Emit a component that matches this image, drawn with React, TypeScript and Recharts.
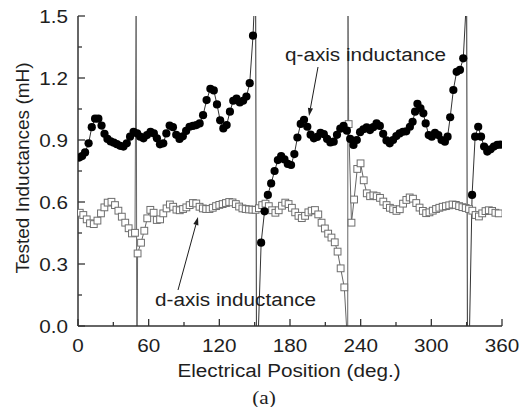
import React from 'react';
import { LineChart, Line, XAxis, YAxis } from 'recharts';

// q-axis inductance (mH) vs electrical position (deg.)
const qDeg = [
  1, 3.5, 6, 9, 11.7, 14.5, 17.3, 20, 22.5, 25,
  27.7, 30.4, 33, 35.8, 38.6, 41.4, 44.2, 47.2, 50.2, 52.8,
  55.6, 58.6, 61.6, 64.4, 67, 69.6, 72.4, 75, 77.8, 80.6,
  83.4, 86.2, 89, 91.8, 94.7, 97.6, 100.5, 103.3, 106.2, 109.2,
  112.4, 115.3, 118, 120.7, 123.4, 126.2, 129, 131.8, 134.6, 137.4,
  140.2, 143, 145.8, 148.6, 150.8, 151.6, 155.5, 158.4, 161.2, 164,
  166.9, 169.7, 172.5, 175.3, 178.1, 180.9, 183.7, 186.3, 189.1, 191.9,
  194.7, 197.5, 200.3, 203.1, 205.9, 208.7, 211.5, 214.3, 217.1, 219.9,
  222.7, 225.5, 228.3, 231.1, 233.9, 236.7, 239.5, 242.3, 245.1, 247.9,
  250.7, 253.5, 256.3, 259.1, 261.9, 264.7, 267.5, 270.3, 273.1, 275.9,
  278.7, 281.8, 284.1, 286.2, 288.2, 290.8, 293.2, 295.2, 297.8, 300.4,
  303.1, 305.9, 308.7, 311.5, 313.8, 316, 318.7, 321.5, 324.3, 327.1,
  330, 330.8, 334.6, 337.2, 339.8, 342.2, 344.8, 347.5, 350.3, 353.1,
  356, 358.6,
];
const qL = [
  0.815, 0.822, 0.84, 0.884, 0.962, 1.003, 1.003, 0.97, 0.93, 0.905,
  0.893, 0.887, 0.88, 0.872, 0.868, 0.884, 0.916, 0.94, 0.932, 0.916,
  0.908, 0.924, 0.94, 0.932, 0.908, 0.879, 0.884, 0.932, 0.97, 0.962,
  0.925, 0.905, 0.918, 0.944, 0.964, 0.968, 0.972, 0.98, 1.02, 1.093,
  1.148, 1.14, 1.072, 0.995, 0.956, 0.972, 1.037, 1.09, 1.1, 1.082,
  1.09, 1.11, 1.175, 1.405, 1.7, -0.3, 0.403, 0.555, 0.634, 0.69,
  0.75, 0.803, 0.822, 0.806, 0.784, 0.779, 0.832, 0.912, 0.978, 0.998,
  0.964, 0.926, 0.908, 0.915, 0.935, 0.928, 0.905, 0.888, 0.892, 0.925,
  0.955, 0.968, 0.945, 0.905, 0.876, 0.9, 0.938, 0.952, 0.961, 0.948,
  0.962, 0.98, 0.968, 0.93, 0.898, 0.884, 0.9, 0.919, 0.932, 0.94,
  0.942, 0.964, 0.988, 1.037, 1.075, 1.053, 1.029, 0.98, 0.924, 0.916,
  0.935, 0.924, 0.9, 0.892, 0.916, 1.01, 1.142, 1.23, 1.239, 1.295,
  1.6, -0.5, 0.634, 0.916, 0.964, 0.916, 0.868, 0.844, 0.855, 0.868,
  0.876, 0.878,
];

// d-axis inductance (mH)
const dDeg = [
  1.5, 4.5, 7.4, 10.2, 13.4, 16.5, 19.5, 22.4, 25.2, 28.4,
  31.4, 34.3, 37.2, 40.1, 43, 45.8, 48.4, 49.4, 50, 50.6,
  53.5, 56.3, 58.8, 61.4, 64.2, 66.9, 69.7, 72.4, 75.2, 78,
  80.8, 83.6, 86.4, 89.2, 92, 94.8, 97.6, 100.4, 103.2, 106,
  108.8, 111.6, 114.4, 117.2, 120, 122.8, 125.6, 128.4, 131.2, 134,
  136.8, 139.6, 142.4, 145.2, 148, 150.8, 153.6, 156.4, 159.2, 162,
  164.8, 167.6, 170.4, 173.2, 176, 178.8, 181.6, 184.4, 187.2, 190,
  192.8, 195.6, 198.4, 201.2, 204, 206.8, 209.6, 212.4, 215.2, 218,
  220.4, 223, 226.1, 229, 229.2, 229.8, 232.2, 234.4, 237.1, 239.9,
  242.6, 245.2, 248, 250.8, 253.6, 256.4, 259.2, 262, 264.8, 267.6,
  270.4, 273.2, 276, 278.8, 281.6, 284.4, 287.2, 290, 292.8, 295.6,
  298.4, 301.2, 304, 306.8, 309.6, 312.4, 315.2, 318, 320.8, 323.6,
  326.4, 329.2, 332, 334.8, 337.6, 340.4, 343.2, 346, 348.8, 351.6,
  354.4, 357.2,
];
const dL = [
  0.548, 0.537, 0.516, 0.497, 0.493, 0.51, 0.545, 0.574, 0.597, 0.601,
  0.585, 0.558, 0.529, 0.5, 0.473, 0.448, 0.451, 1.7, -0.4, 0.351,
  0.403, 0.461, 0.521, 0.562, 0.548, 0.513, 0.516, 0.545, 0.569, 0.588,
  0.577, 0.563, 0.56, 0.566, 0.574, 0.585, 0.595, 0.593, 0.577, 0.569,
  0.566, 0.566, 0.572, 0.58, 0.586, 0.59, 0.595, 0.6, 0.598, 0.59,
  0.578, 0.569, 0.566, 0.564, 0.563, 0.562, 0.57, 0.585, 0.592, 0.58,
  0.56, 0.548, 0.56, 0.582, 0.597, 0.59, 0.572, 0.55, 0.533, 0.522,
  0.533, 0.55, 0.558, 0.561, 0.54, 0.5, 0.472, 0.447, 0.428, 0.405,
  0.36, 0.279, 0.187, -0.1, 1.7, 0.977, 0.5, 0.612, 0.76, 0.787,
  0.705, 0.642, 0.628, 0.632, 0.628, 0.62, 0.602, 0.585, 0.572, 0.565,
  0.557, 0.565, 0.592, 0.61, 0.622, 0.616, 0.595, 0.573, 0.557, 0.546,
  0.55, 0.558, 0.566, 0.572, 0.577, 0.58, 0.584, 0.588, 0.586, 0.58,
  0.575, 0.571, 0.566, 0.558, 0.537, 0.53, 0.545, 0.556, 0.56, 0.557,
  0.548, 0.545,
];

const xMajor = [0, 60, 120, 180, 240, 300, 360];
const xTicks = [0, 30, 60, 90, 120, 150, 180, 210, 240, 270, 300, 330, 360];
const yMajor = [0, 0.3, 0.6, 0.9, 1.2, 1.5];
const yTicks = [0, 0.15, 0.3, 0.45, 0.6, 0.75, 0.9, 1.05, 1.2, 1.35, 1.5];

const qData = qDeg.map((deg, i) => ({ deg, L: qL[i] }));
const dData = dDeg.map((deg, i) => ({ deg, L: dL[i] }));

const AXIS = '#333';
const INK = '#1e1e1e';
const SANS = '"Liberation Sans", Arial, sans-serif';
const SERIF = '"Liberation Serif", "Times New Roman", serif';

const inRange = (v: number) => v >= 0 && v <= 1.5;

const BottomTick = ({ x, y, payload }: any) => {
  const major = xMajor.includes(payload.value);
  return (
    <g>
      <line x1={x} y1={y} x2={x} y2={y - (major ? 7 : 4)} stroke={AXIS} strokeWidth={1.3} />
      {major && (
        <text
          transform={`translate(${x},${y + 25.5}) scale(1.09,1)`}
          textAnchor="middle"
          fontSize={19}
          fontFamily={SANS}
          fill={INK}
        >
          {payload.value}
        </text>
      )}
    </g>
  );
};

const TopTick = ({ x, y, payload }: any) => {
  const major = xMajor.includes(payload.value);
  return <line x1={x} y1={y} x2={x} y2={y + (major ? 7 : 4)} stroke={AXIS} strokeWidth={1.3} />;
};

const LeftTick = ({ x, y, payload }: any) => {
  const major = yMajor.includes(payload.value);
  return (
    <g>
      <line x1={x} y1={y} x2={x + (major ? 7 : 4)} y2={y} stroke={AXIS} strokeWidth={1.3} />
      {major && (
        <text
          transform={`translate(${x - 10},${y + 6.8}) scale(1.09,1)`}
          textAnchor="end"
          fontSize={19}
          fontFamily={SANS}
          fill={INK}
        >
          {payload.value.toFixed(1)}
        </text>
      )}
    </g>
  );
};

const RightTick = ({ x, y, payload }: any) => {
  const major = yMajor.includes(payload.value);
  return <line x1={x} y1={y} x2={x - (major ? 7 : 4)} y2={y} stroke={AXIS} strokeWidth={1.3} />;
};

const CircleDot = (props: any) => {
  const { cx, cy, value, index } = props;
  if (!inRange(value)) return <g key={`q-${index}`} />;
  return <circle key={`q-${index}`} cx={cx} cy={cy} r={4.1} fill="#000" />;
};

const SquareDot = (props: any) => {
  const { cx, cy, value, index } = props;
  if (!inRange(value)) return <g key={`d-${index}`} />;
  return (
    <rect
      key={`d-${index}`}
      x={cx - 3.4}
      y={cy - 3.4}
      width={6.8}
      height={6.8}
      fill="#fff"
      stroke="#6e6e6e"
      strokeWidth={1}
    />
  );
};

const Arrow = ({ x1, y1, x2, y2 }: { x1: number; y1: number; x2: number; y2: number }) => {
  const a = Math.atan2(y2 - y1, x2 - x1);
  const len = 8;
  const half = 2.6;
  const bx = x2 - len * Math.cos(a);
  const by = y2 - len * Math.sin(a);
  const px = -Math.sin(a) * half;
  const py = Math.cos(a) * half;
  return (
    <g>
      <line x1={x1} y1={y1} x2={bx} y2={by} stroke={INK} strokeWidth={1} />
      <polygon points={`${x2},${y2} ${bx + px},${by + py} ${bx - px},${by - py}`} fill={INK} />
    </g>
  );
};

// the wrapper cancels the body margin so the svg covers the whole window
const App: React.FC = () => {
  return (
    <div style={{ position: 'relative', width: 531, height: 415, margin: -8 }}>
      <LineChart width={531} height={415} margin={{ top: 16, right: 29, bottom: 0, left: 0 }}>
        <XAxis
          xAxisId="bottom"
          type="number"
          dataKey="deg"
          domain={[0, 360]}
          ticks={xTicks}
          interval={0}
          allowDataOverflow
          height={89}
          tickSize={0}
          tickMargin={0}
          tick={<BottomTick />}
          axisLine={{ stroke: AXIS, strokeWidth: 1.5 }}
        />
        <XAxis
          xAxisId="top"
          orientation="top"
          type="number"
          dataKey="deg"
          domain={[0, 360]}
          ticks={xTicks}
          interval={0}
          allowDataOverflow
          height={0}
          tickSize={0}
          tickMargin={0}
          tick={<TopTick />}
          axisLine={{ stroke: AXIS, strokeWidth: 1.5 }}
        />
        <YAxis
          yAxisId="left"
          type="number"
          domain={[0, 1.5]}
          ticks={yTicks}
          interval={0}
          allowDataOverflow
          width={78}
          tickSize={0}
          tickMargin={0}
          tick={<LeftTick />}
          axisLine={{ stroke: AXIS, strokeWidth: 1.5 }}
        />
        <YAxis
          yAxisId="right"
          orientation="right"
          type="number"
          domain={[0, 1.5]}
          ticks={yTicks}
          interval={0}
          allowDataOverflow
          width={0}
          tickSize={0}
          tickMargin={0}
          tick={<RightTick />}
          axisLine={{ stroke: AXIS, strokeWidth: 1.5 }}
        />
        <Line
          xAxisId="bottom"
          yAxisId="left"
          data={dData}
          dataKey="L"
          type="linear"
          stroke="#666"
          strokeWidth={1}
          dot={SquareDot}
          activeDot={false}
          isAnimationActive={false}
        />
        <Line
          xAxisId="bottom"
          yAxisId="left"
          data={qData}
          dataKey="L"
          type="linear"
          stroke="#333"
          strokeWidth={1}
          dot={CircleDot}
          activeDot={false}
          isAnimationActive={false}
        />
      </LineChart>

      <svg
        width={531}
        height={415}
        style={{ position: 'absolute', left: 0, top: 0, pointerEvents: 'none' }}
      >
        <text
          transform="translate(29,168) rotate(-90)"
          textAnchor="middle"
          fontSize={19}
          fontFamily={SANS}
          fill={INK}
        >
          Tested Inductances (mH)
        </text>
        <text
          transform="translate(289,376.5) scale(1.09,1)"
          textAnchor="middle"
          fontSize={19}
          fontFamily={SANS}
          fill={INK}
        >
          Electrical Position (deg.)
        </text>
        <text
          transform="translate(264,404) scale(1.12,1)"
          textAnchor="middle"
          fontSize={19}
          fontFamily={SERIF}
          fill={INK}
        >
          (a)
        </text>
        <text transform="translate(285,61) scale(1.09,1)" fontSize={19} fontFamily={SANS} fill={INK}>
          q-axis inductance
        </text>
        <Arrow x1={318} y1={67} x2={309} y2={116} />
        <text transform="translate(155,306) scale(1.09,1)" fontSize={19} fontFamily={SANS} fill={INK}>
          d-axis inductance
        </text>
        <Arrow x1={178} y1={290} x2={198} y2={217} />
      </svg>
    </div>
  );
};

export default App;
